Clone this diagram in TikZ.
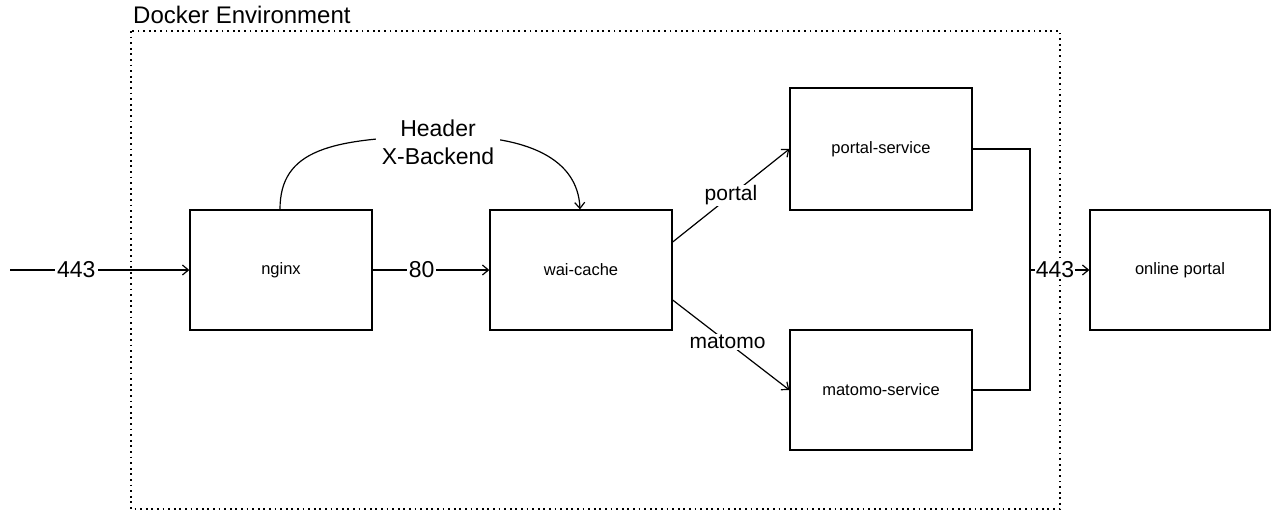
\documentclass[tikz,border=0pt]{standalone}
\usepackage{fontspec}
\setmainfont{Liberation Sans}
\usetikzlibrary{arrows.meta}
\begin{document}
\begin{tikzpicture}[x=1pt,y=-1pt,
  box/.style={draw, line width=1.3pt, minimum width=182pt, minimum height=120pt, inner sep=0pt, font=\fontsize{16.5}{19}\selectfont},
  conn/.style={line width=1.2pt, -{Straight Barb[length=6pt,width=10pt,line width=1.2pt]}},
  plainline/.style={line width=1.2pt},
  lbl/.style={fill=white, inner xsep=2pt, inner ysep=1pt, font=\fontsize{23}{28}\selectfont},
  elbl/.style={fill=white, inner xsep=2pt, inner ysep=1pt, font=\fontsize{21}{24}\selectfont},
  envbox/.style={line width=1.6pt, dash pattern=on 1.8pt off 3.8pt}]
\useasboundingbox (0,0) rectangle (1272,512);
\fill[white] (0,0) rectangle (1272,512);
% environment
\draw[envbox] (131,31) rectangle (1060,509);
\node[anchor=base west, inner sep=0pt, font=\fontsize{24}{28}\selectfont] (title) at (133,23) {Docker Environment};
% boxes
\node[box] (nginx) at (281,270) {nginx};
\node[box] (wai) at (581,270) {wai-cache};
\node[box, minimum height=122pt] (ps) at (881,149) {portal-service};
\node[box] (ms) at (881,390) {matomo-service};
\node[box, minimum width=180pt] (op) at (1180,270) {online portal};
% connectors
\coordinate (in) at (10,270);
\draw[conn] (in) -- node[lbl, pos=0.37] {443} (nginx.west);
\draw[conn] (nginx.east) -- node[lbl, pos=0.42] {80} (wai.west);
\draw[conn] ([xshift=-1pt]nginx.north) .. controls (280,150) and (330,138) .. (438,136)
   .. controls (530,134) and (578,160) .. ([xshift=-1pt]wai.north);
\node[lbl, align=center, inner xsep=6pt] (hdr) at (438,142) {Header\\X-Backend};
\draw[conn] ([yshift=28pt]wai.east) -- node[elbl, pos=0.5] {portal} (ps.west);
\draw[conn] ([yshift=-30pt]wai.east) -- node[elbl, pos=0.47] {matomo} (ms.west);
\coordinate (j) at (1030,270);
\draw[plainline] (ps.east) -| (j);
\draw[plainline] (ms.east) -| (j);
\draw[conn] (j) -- node[lbl, pos=0.42, inner xsep=0.5pt] {443} (op.west);
\end{tikzpicture}
\end{document}
